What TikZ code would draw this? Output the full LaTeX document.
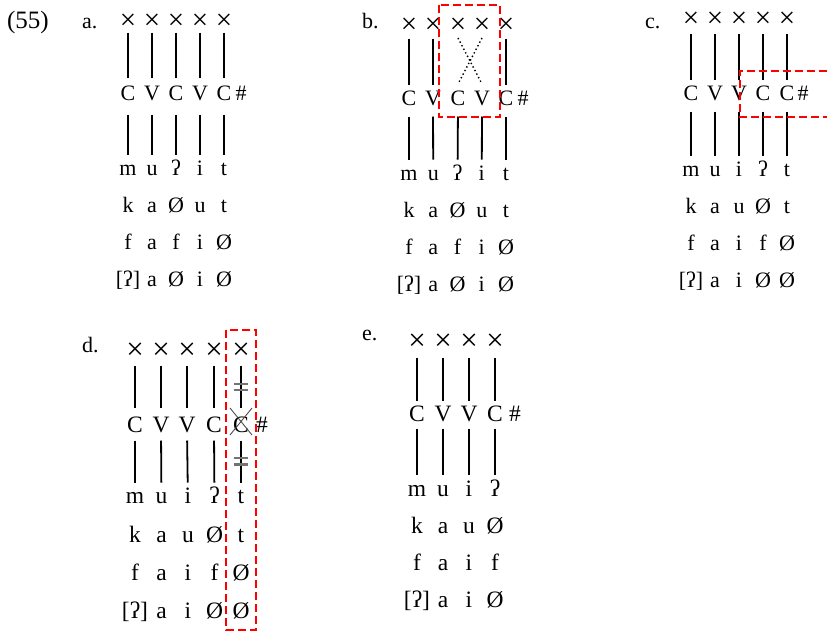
\documentclass[tikz,border=0pt]{standalone}
\usepackage{fontspec}
\setmainfont{Liberation Serif}
\begin{document}
\begin{tikzpicture}[x=1pt,y=-1pt,
  lt/.style={inner sep=0pt, outer sep=0pt, text height=0pt, text depth=0pt, font=\fontsize{22}{22}\selectfont},
  ltb/.style={lt, font=\fontsize{23.5}{24}\selectfont},
  xs/.style={lt, font=\fontsize{29}{29}\selectfont},
  xsb/.style={lt, font=\fontsize{31}{31}\selectfont},
  lab/.style={inner sep=0pt, outer sep=0pt, anchor=base west, font=\fontsize{22}{22}\selectfont},
  seg/.style={line width=1.8pt},
  dotseg/.style={line width=1.4pt, dash pattern=on 1.4pt off 2.6pt},
  redbox/.style={draw=red, line width=1.8pt, dash pattern=on 8pt off 4pt},
  delink/.style={draw=black!55, line width=2.2pt},
  strike/.style={draw=black!70, line width=0.9pt}]
\useasboundingbox (0,0) rectangle (827,632);

% labels
\node[lab, font=\fontsize{25}{25}\selectfont] (n55) at (7,28) {(55)};
\node[lab] (la) at (82,28) {a.};
\node[lab] (lb) at (362,28) {b.};
\node[lab] (lc) at (645,28) {c.};
\node[lab] (ld) at (82,352) {d.};
\node[lab] (le) at (362,340) {e.};

% ---------- panel a ----------
\foreach \i/\xx/\t in {1/128/C,2/152/V,3/176/C,4/200/V,5/224/C}{
  \node[xs] (a-x\i) at (\xx,29.5) {×};
  \node[lt] (a-s\i) at (\xx,100) {\t};
}
\node[lt] (a-h) at (241,100) {\#};
\foreach \r/\yy/\row in {1/175/{m,u,ʔ,i,t},2/212/{k,a,Ø,u,t},3/249/{f,a,f,i,Ø},4/286/{{[ʔ]},a,Ø,i,Ø}}{
  \foreach \t [count=\i] in \row { \node[lt] (a-r\r-\i) at ({128+24*(\i-1)},\yy) {\t}; }
}
\foreach \i in {1,...,5}{
  \draw[seg, shorten <=2.5pt, shorten >=22pt] (a-x\i) -- (a-s\i);
  \draw[seg, shorten <=14pt, shorten >=20pt] (a-s\i) -- (a-r1-\i);
}

% ---------- panel b ----------
\foreach \i/\xx/\t in {1/409/C,2/433/V,3/458/C,4/482/V,5/506/C}{
  \node[xs] (b-x\i) at (\xx,33.5) {×};
  \node[lt] (b-s\i) at (\xx,105) {\t};
}
\node[lt] (b-h) at (523,105) {\#};
\foreach \r/\yy/\row in {1/180/{m,u,ʔ,i,t},2/217/{k,a,Ø,u,t},3/254/{f,a,f,i,Ø},4/291/{{[ʔ]},a,Ø,i,Ø}}{
  \foreach \t [count=\i] in \row { \node[lt] (b-r\r-\i) at ({409+24.25*(\i-1)},\yy) {\t}; }
}
\foreach \i in {1,2,5}{
  \draw[seg, shorten <=4.5pt, shorten >=20pt] (b-x\i) -- (b-s\i);
}
\draw[dotseg] ([shift={(0,4.5)}]b-x3.center) -- ([shift={(0,-21)}]b-s4.center);
\draw[dotseg] ([shift={(0,4.5)}]b-x4.center) -- ([shift={(0,-21)}]b-s3.center);
\foreach \i in {1,...,5}{
  \draw[seg, shorten <=11pt, shorten >=20pt] (b-s\i) -- (b-r1-\i);
}
\draw[redbox] (439,5) rectangle (500,117);

% ---------- panel c ----------
\foreach \i/\xx/\t in {1/691/C,2/715/V,3/739/V,4/763/C,5/787/C}{
  \node[xs] (c-x\i) at (\xx,27.5) {×};
  \node[lt] (c-s\i) at (\xx,100) {\t};
}
\node[lt] (c-h) at (803,100) {\#};
\foreach \r/\yy/\row in {1/176/{m,u,i,ʔ,t},2/213/{k,a,u,Ø,t},3/250/{f,a,i,f,Ø},4/287/{{[ʔ]},a,i,Ø,Ø}}{
  \foreach \t [count=\i] in \row { \node[lt] (c-r\r-\i) at ({691+24*(\i-1)},\yy) {\t}; }
}
\foreach \i in {1,...,5}{
  \draw[seg, shorten <=5.5pt, shorten >=20pt] (c-x\i) -- (c-s\i);
  \draw[seg, shorten <=11pt, shorten >=20pt] (c-s\i) -- (c-r1-\i);
}
\draw[redbox] (827,71) -- (740,71) -- (740,117) -- (827,117);

% ---------- panel d ----------
\foreach \i/\xx/\t in {1/135/C,2/161/V,3/187/V,4/214/C,5/241/C}{
  \node[xsb] (d-x\i) at (\xx,359) {×};
  \node[ltb] (d-s\i) at (\xx,432) {\t};
}
\node[ltb] (d-h) at (262,432) {\#};
\foreach \r/\yy/\row in {1/503/{m,u,i,ʔ,t},2/542/{k,a,u,Ø,t},3/580/{f,a,i,f,Ø},4/618/{{[ʔ]},a,i,Ø,Ø}}{
  \foreach \t [count=\i] in \row { \node[ltb] (d-r\r-\i) at ({135+26.5*(\i-1)},\yy) {\t}; }
}
\foreach \i in {1,...,5}{
  \draw[seg, shorten <=6pt, shorten >=24pt] (d-x\i) -- (d-s\i);
  \draw[seg, shorten <=8pt, shorten >=20pt] (d-s\i) -- (d-r1-\i);
}
\draw[delink] ([shift={(-7,-48)}]d-s5.center) -- ([shift={(7,-48)}]d-s5.center);
\draw[delink] ([shift={(-7,-42)}]d-s5.center) -- ([shift={(7,-42)}]d-s5.center);
\draw[delink] ([shift={(-7,26)}]d-s5.center) -- ([shift={(7,26)}]d-s5.center);
\draw[delink] ([shift={(-7,32.5)}]d-s5.center) -- ([shift={(7,32.5)}]d-s5.center);
\draw[strike] ([shift={(-11,-24)}]d-s5.center) -- ([shift={(11,3)}]d-s5.center);
\draw[strike] ([shift={(-11,3)}]d-s5.center) -- ([shift={(11,-24)}]d-s5.center);
\draw[redbox] (226,330) rectangle (256,630);

% ---------- panel e ----------
\foreach \i/\xx/\t in {1/417/C,2/443/V,3/469/V,4/495/C}{
  \node[xsb] (e-x\i) at (\xx,350) {×};
  \node[ltb] (e-s\i) at (\xx,421) {\t};
}
\node[ltb] (e-h) at (515,421) {\#};
\foreach \r/\yy/\row in {1/496/{m,u,i,ʔ},2/533/{k,a,u,Ø},3/570/{f,a,i,f},4/607/{{[ʔ]},a,i,Ø}}{
  \foreach \t [count=\i] in \row { \node[ltb] (e-r\r-\i) at ({417+26*(\i-1)},\yy) {\t}; }
}
\foreach \i in {1,...,4}{
  \draw[seg, shorten <=7pt, shorten >=20pt] (e-x\i) -- (e-s\i);
  \draw[seg, shorten <=7pt, shorten >=21pt] (e-s\i) -- (e-r1-\i);
}
\end{tikzpicture}
\end{document}
